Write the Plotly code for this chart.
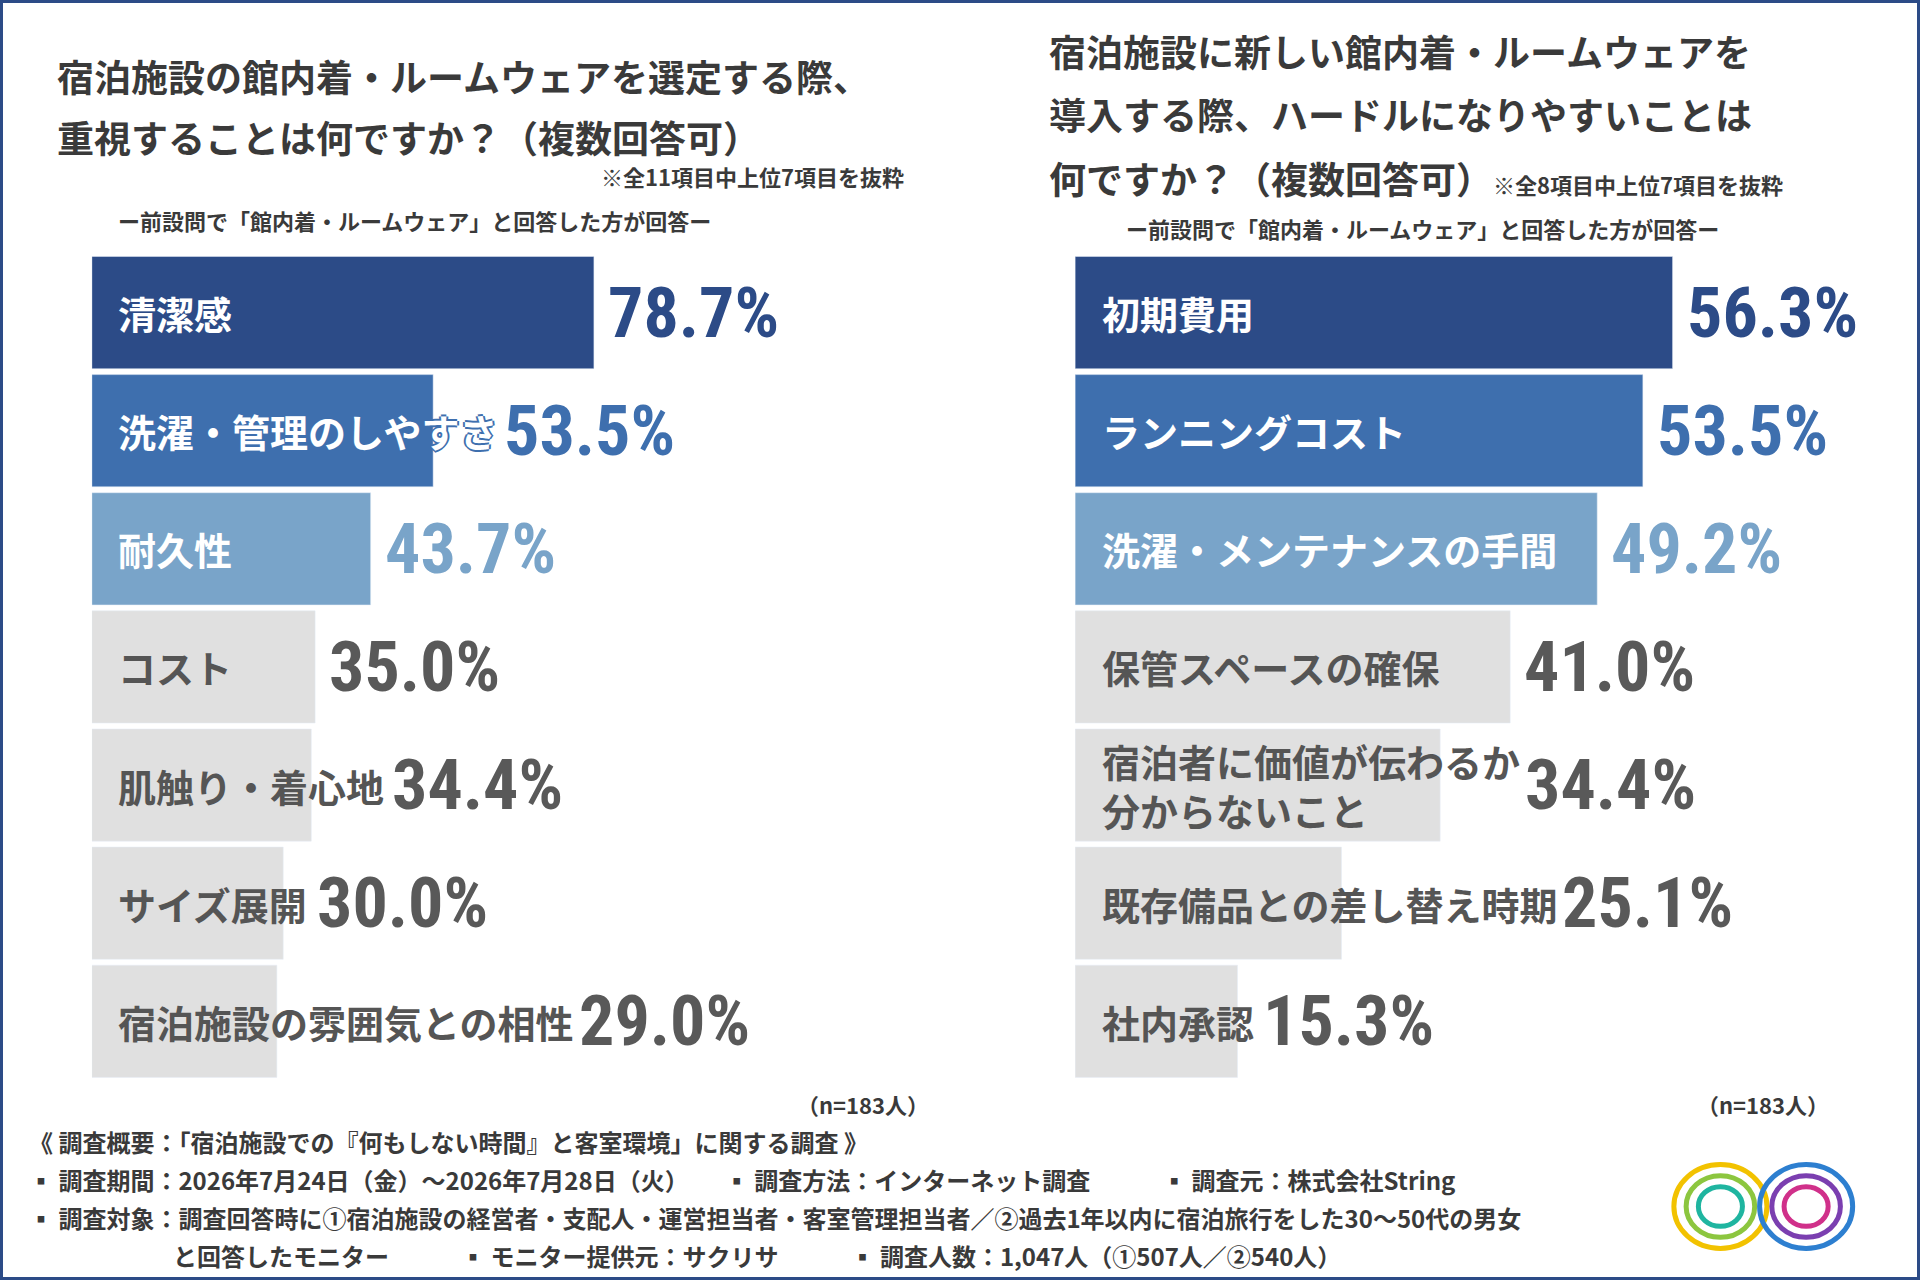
import plotly.graph_objects as go

W, H = 1568, 1045  # reference pixel grid used for placement
JP = "Noto Sans CJK JP"

left_labels = ["清潔感", "洗濯・管理のしやすさ", "耐久性", "コスト", "肌触り・着心地", "サイズ展開", "宿泊施設の雰囲気との相性"]
left_values = [78.7, 53.5, 43.7, 35.0, 34.4, 30.0, 29.0]
right_labels = ["初期費用", "ランニングコスト", "洗濯・メンテナンスの手間", "保管スペースの確保",
                "宿泊者に価値が伝わるか<br>分からないこと", "既存備品との差し替え時期", "社内承認"]
right_values = [56.3, 53.5, 49.2, 41.0, 34.4, 25.1, 15.3]

bar_colors = ["#2c4b87", "#3e6fae", "#79a4c9", "#e0e0e0", "#e0e0e0", "#e0e0e0", "#e0e0e0"]
label_colors = ["white", "white", "white", "#555555", "#555555", "#555555", "#555555"]
value_colors = ["#2c4b87", "#3e6fae", "#79a4c9", "#595959", "#595959", "#595959", "#595959"]


def px(x):
    return x / W


def py(y):
    return 1 - y / H


fig = go.Figure()
cats = list(range(7))
fig.add_trace(go.Bar(x=left_values, y=cats, orientation="h", marker_color=bar_colors,
                     xaxis="x", yaxis="y", hoverinfo="skip"))
fig.add_trace(go.Bar(x=right_values, y=cats, orientation="h", marker_color=bar_colors,
                     xaxis="x2", yaxis="y2", hoverinfo="skip"))

ann = []
# px per percent on each axis (in reference pixels)
for xa, ya, labels, values, scale in [("x", "y", left_labels, left_values, 521 / 100),
                                      ("x2", "y2", right_labels, right_values, 520 / 60)]:
    for i in range(7):
        nchar = max(len(s) for s in labels[i].split("<br>"))
        label_end = (20 + nchar * 30.5) / scale
        f = dict(family=JP, size=38, color=label_colors[i])
        if label_colors[i] == "white" and label_end > values[i]:
            # white text running past the bar gets a coloured outline, like the original
            c = bar_colors[i]
            f["shadow"] = "2px 0 0 %s, -2px 0 0 %s, 0 2px 0 %s, 0 -2px 0 %s" % (c, c, c, c)
        ann.append(dict(x=0, y=i, xref=xa, yref=ya, text="<b>" + labels[i] + "</b>", showarrow=False,
                        xanchor="left", xshift=20 * 1.2245, align="left", font=f))
        # value goes after the bar end or after the label text, whichever is further right
        vx = max(values[i], label_end)
        ann.append(dict(x=vx, y=i, xref=xa, yref=ya, text="<b>%.1f%%</b>" % values[i], showarrow=False,
                        xanchor="left", xshift=10 * 1.2245,
                        font=dict(family="Roboto Condensed, Roboto, sans-serif", size=70, color=value_colors[i])))


def text(x, y, s, size, anchor="left", color="#3a3a3a", bold=True):
    ann.append(dict(x=px(x), y=py(y), xref="paper", yref="paper", text=("<b>%s</b>" % s) if bold else s,
                    showarrow=False, xanchor=anchor, yanchor="middle", align="left",
                    font=dict(family=JP, size=size, color=color)))

text(45, 62, "宿泊施設の館内着・ルームウェアを選定する際、", 37)
text(45, 112, "重視することは何ですか？（複数回答可）", 37)
text(740, 144, "※全11項目中上位7項目を抜粋", 22, "right")
text(95, 180, "ー前設問で「館内着・ルームウェア」と回答した方が回答ー", 22)
text(855, 42, "宿泊施設に新しい館内着・ルームウェアを", 37)
text(855, 93, "導入する際、ハードルになりやすいことは", 37)
text(855, 145, "何ですか？（複数回答可）<span style='font-size:22px'>※全8項目中上位7項目を抜粋</span>", 37)
text(918, 186, "ー前設問で「館内着・ルームウェア」と回答した方が回答ー", 22)
text(760, 901, "（n=183人）", 22, "right")
text(1495, 901, "（n=183人）", 22, "right")
text(22, 932, "《 調査概要：「宿泊施設での『何もしない時間』と客室環境」に関する調査 》", 24)
text(22, 963, "▪ 調査期間：2026年7月24日（金）～2026年7月28日（火）　　▪ 調査方法：インターネット調査　　　▪ 調査元：株式会社String", 24)
text(22, 994, "▪ 調査対象：調査回答時に①宿泊施設の経営者・支配人・運営担当者・客室管理担当者／②過去1年以内に宿泊旅行をした30～50代の男女", 24)
text(140, 1025, "と回答したモニター　　　▪ モニター提供元：サクリサ　　　▪ 調査人数：1,047人（①507人／②540人）", 24)

shapes = [dict(type="rect", xref="paper", yref="paper", x0=0, y0=0, x1=1, y1=1,
               line=dict(color="#2c4b87", width=6))]
# simple ring logo
for cx, cols in [(1405, ["#f2c200", "#8cc63f", "#1fb5a0"]), (1475, ["#2d7fd0", "#7b3fb0", "#d0308a"])]:
    for r, col in zip((38, 28, 18), cols):
        shapes.append(dict(type="circle", xref="paper", yref="paper",
                           x0=px(cx - r), x1=px(cx + r), y0=py(985 + r * 0.9), y1=py(985 - r * 0.9),
                           line=dict(color=col, width=5)))

ydom = [py(882), py(207)]
fig.update_layout(
    width=1920, height=1280, margin=dict(l=0, r=0, t=0, b=0),
    paper_bgcolor="white", plot_bgcolor="white", showlegend=False, bargap=0.05,
    xaxis=dict(domain=[px(75), px(75 + 521)], range=[0, 100], visible=False),
    yaxis=dict(domain=ydom, range=[6.5, -0.5], visible=False),
    xaxis2=dict(domain=[px(878), px(878 + 520)], range=[0, 60], visible=False),
    yaxis2=dict(domain=ydom, range=[6.5, -0.5], visible=False, anchor="x2"),
    annotations=ann, shapes=shapes,
)
fig.write_html("out.html", config={"displayModeBar": False},
               post_script="document.body.style.margin='0';")
